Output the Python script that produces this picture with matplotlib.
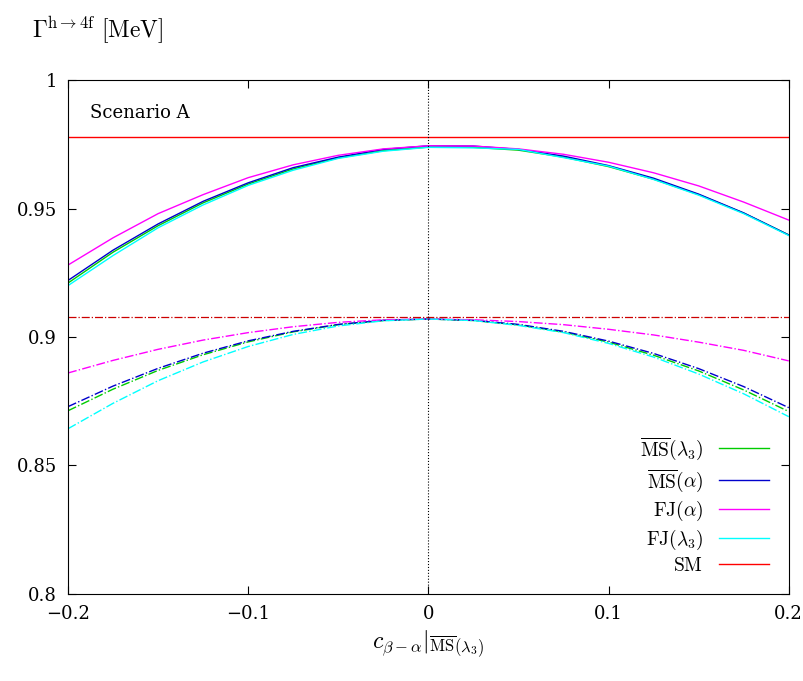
import numpy as np
import matplotlib
matplotlib.use("Agg")
import matplotlib.pyplot as plt

plt.rcParams['font.family'] = 'serif'
plt.rcParams['font.serif'] = ['DejaVu Serif']
plt.rcParams['mathtext.fontset'] = 'cm'
plt.rcParams['font.size'] = 13

x = [-0.2, -0.175, -0.15, -0.125, -0.1, -0.075, -0.05, -0.025, 0.0,
     0.025, 0.05, 0.075, 0.1, 0.125, 0.15, 0.175, 0.2]

# solid: upper curves
ms_l3 = [0.921, 0.9330, 0.9433, 0.9522, 0.9595, 0.9654, 0.9697, 0.9725, 0.9739,
         0.9738, 0.9727, 0.9700, 0.9663, 0.9614, 0.9554, 0.9482, 0.9397]
ms_al = [0.922, 0.9338, 0.944, 0.9528, 0.960, 0.9659, 0.970, 0.9730, 0.9744,
         0.9743, 0.973, 0.9704, 0.9667, 0.9618, 0.9556, 0.9483, 0.9397]
fj_al = [0.928, 0.9386, 0.948, 0.9554, 0.962, 0.9670, 0.9707, 0.9732, 0.9744,
         0.9743, 0.9732, 0.9711, 0.968, 0.9639, 0.9588, 0.9525, 0.9455]
fj_l3 = [0.920, 0.9317, 0.9425, 0.9514, 0.959, 0.9649, 0.9695, 0.9723, 0.9738,
         0.9736, 0.973, 0.9698, 0.9665, 0.9613, 0.9552, 0.9480, 0.9395]
sm = 0.9780

# dash-dot: lower curves
ms_l3_b = [0.8713, 0.8797, 0.887, 0.8931, 0.8981, 0.9020, 0.9048, 0.9064, 0.907,
           0.9064, 0.9047, 0.9019, 0.898, 0.8929, 0.8868, 0.8794, 0.871]
ms_al_b = [0.8729, 0.8809, 0.8878, 0.8937, 0.8985, 0.9022, 0.9049, 0.9065, 0.907,
           0.9065, 0.9049, 0.9022, 0.8984, 0.8936, 0.8877, 0.8807, 0.8725]
fj_al_b = [0.886, 0.8909, 0.8952, 0.8988, 0.9017, 0.9040, 0.9057, 0.9067, 0.907,
           0.9067, 0.906, 0.9048, 0.903, 0.9008, 0.898, 0.8948, 0.8907]
fj_l3_b = [0.8643, 0.8742, 0.883, 0.8903, 0.8963, 0.9010, 0.9043, 0.9063, 0.907,
           0.9064, 0.9045, 0.9017, 0.8975, 0.8922, 0.8856, 0.8779, 0.869]
sm_b = 0.9078

colors = ['#00cc00', '#0000cc', '#ff00ff', '#00ffff']
labels = [r'$\overline{\rm MS}(\lambda_3)$', r'$\overline{\rm MS}(\alpha)$',
          r'${\rm FJ}(\alpha)$', r'${\rm FJ}(\lambda_3)$']

fig = plt.figure(figsize=(8.04, 6.81), dpi=100)
ax = fig.add_axes([0.0846, 0.1278, 0.8964, 0.7547])

for ys, c, lab in zip([ms_l3, ms_al, fj_al, fj_l3], colors, labels):
    ax.plot(x, ys, color=c, lw=1.0, label=lab)
ax.axhline(sm, color='red', lw=1.0, label=r'${\rm SM}$')
for ys, c in zip([ms_l3_b, ms_al_b, fj_al_b, fj_l3_b], colors):
    ax.plot(x, ys, color=c, lw=1.0, ls='-.')
ax.axhline(sm_b, color='#cc0000', lw=0.9, ls='-.')
ax.axvline(0, color='black', lw=0.8, ls=':')

ax.set_xlim(-0.2, 0.2)
ax.set_ylim(0.8, 1.0)
ax.set_xticks([-0.2, -0.1, 0, 0.1, 0.2])
ax.set_xticklabels(['−0.2', '−0.1', '0', '0.1', '0.2'])
ax.set_yticks([0.8, 0.85, 0.9, 0.95, 1.0])
ax.set_yticklabels(['0.8', '0.85', '0.9', '0.95', '1'])
ax.tick_params(direction='in', top=True, right=True, length=6, labelsize=13, pad=8)

ax.text(0.03, 0.935, 'Scenario A', transform=ax.transAxes, fontsize=13, va='center')
fig.text(0.04, 0.955, r'$\Gamma^{\rm h\to 4f}\ [{\rm MeV}]$', fontsize=17, va='center')
ax.set_xlabel(r'$c_{\beta-\alpha}|_{\overline{\rm MS}(\lambda_3)}$', fontsize=17)

ax.legend(loc='lower right', markerfirst=False, frameon=False, fontsize=14,
          handlelength=2.6, labelspacing=0.25, borderaxespad=0.6)

fig.savefig('out.png', dpi=100)
